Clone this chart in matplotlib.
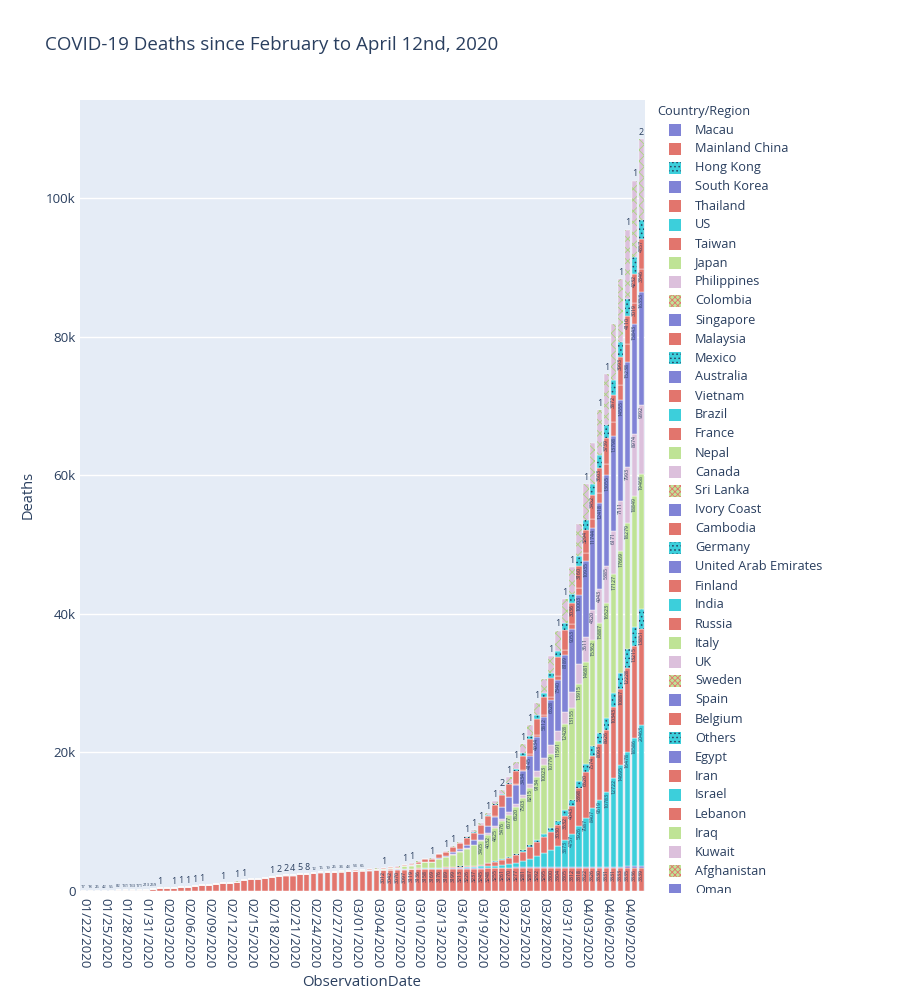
import numpy as np
import pandas as pd
import matplotlib
matplotlib.use('Agg')
import matplotlib.pyplot as plt
from matplotlib.patches import Rectangle
from matplotlib.ticker import FuncFormatter

plt.rcParams['font.family'] = ['Open Sans', 'DejaVu Sans']
plt.rcParams['hatch.linewidth'] = 0.6

# ------------------------------------------
# data: cumulative deaths per day (01/22 .. 04/11)
# ------------------------------------------
dates = pd.date_range('2020-01-22', '2020-04-11').strftime('%m/%d/%Y').tolist()

mainland_china = [17, 18, 26, 42, 56, 82, 131, 133, 171, 213,
                  259, 361, 425, 490, 562, 632, 717, 804, 904, 1011,
                  1111, 1116, 1368, 1520, 1662, 1765, 1863, 2002, 2114, 2236,
                  2236, 2441, 2443, 2593, 2663, 2715, 2744, 2788, 2835,
                  2870, 2912, 2943, 2981, 3012, 3042, 3070, 3097, 3119, 3136,
                  3158, 3169, 3176, 3189, 3199, 3213, 3226, 3237, 3245, 3248,
                  3255, 3261, 3270, 3277, 3281, 3287, 3292, 3295, 3300, 3304, 3305,
                  3312, 3318, 3322, 3326, 3330, 3331, 3331, 3333, 3335, 3336, 3339]

south_korea = [0] * 29 + [1, 2, 2, 6, 8, 10, 12, 13, 13, 16,
                          17, 28, 28, 35, 35, 42, 44, 50, 53, 54,
                          60, 66, 66, 72, 75, 75, 81, 84, 91, 94,
                          102, 104, 111, 120, 126, 131, 139, 144, 152, 158, 162,
                          165, 169, 174, 177, 183, 186, 192, 200, 204, 208, 211]

us = [0] * 38 + [1,
                 1, 6, 7, 11, 12, 14, 17, 21, 22, 28,
                 36, 40, 47, 54, 63, 85, 108, 118, 200, 244,
                 307, 427, 552, 706, 942, 1209, 1581, 2026, 2467, 2978, 3873,
                 4757, 5926, 7087, 8407, 9619, 10783, 12722, 14695, 16478, 18586, 20463]

france = [0] * 24 + [1] * 11 + [2] * 4 + [2, 3, 4, 4, 6, 9, 11, 19, 19, 33,
                                          48, 48, 79, 91, 91, 149, 149, 149, 244, 451,
                                          563, 676, 862, 1102, 1333, 1698, 1997, 2317, 2611, 3030, 3532,
                                          4043, 5398, 6520, 7574, 8093, 8926, 10343, 10887, 12228, 13215, 13851]

germany = [0] * 47 + [2, 2, 3, 3, 7, 9, 11, 17, 24, 28, 44, 67,
                      84, 94, 123, 157, 206, 267, 342, 433, 533, 645, 775,
                      920, 1107, 1275, 1444, 1584, 1810, 2016, 2349, 2607, 2767, 2871]

italy = [0] * 30 + [1, 2, 3, 7, 10, 12, 17, 21, 29,
                    34, 52, 79, 107, 148, 197, 233, 366, 463, 631,
                    827, 827, 1266, 1441, 1809, 2158, 2503, 2978, 3405, 4032,
                    4825, 5476, 6077, 6820, 7503, 8215, 9134, 10023, 10779, 11591, 12428,
                    13155, 13915, 14681, 15362, 15887, 16523, 17127, 17669, 18279, 18849, 19468]

uk = [0] * 43 + [1, 2, 2, 3, 4, 6,
                 8, 8, 8, 21, 21, 56, 56, 72, 138, 178,
                 234, 282, 336, 423, 466, 580, 761, 1021, 1231, 1411, 1793,
                 2357, 2926, 3611, 4320, 4943, 5385, 6171, 7111, 7993, 8974, 9892]

spain = [0] * 41 + [1, 2, 3, 5, 10, 17, 28, 35,
                    54, 55, 133, 195, 289, 342, 533, 623, 830, 1043,
                    1362, 1756, 2182, 2696, 3434, 4145, 4934, 5812, 6528, 7340, 8189,
                    9053, 10003, 10935, 11744, 12418, 13055, 13798, 14555, 15238, 15843, 16353]

belgium = [0] * 49 + [3, 3, 3, 4, 4, 5, 10, 14, 21, 37,
                      67, 75, 88, 122, 178, 220, 289, 353, 431, 513, 705,
                      828, 1011, 1143, 1283, 1447, 1632, 2035, 2240, 2523, 3019, 3346]

iran = [0] * 28 + [2, 2, 4, 5, 8, 12, 16, 19, 26, 34, 43,
                   54, 66, 77, 92, 107, 124, 145, 194, 237, 291,
                   354, 429, 514, 611, 724, 853, 988, 1135, 1284, 1433,
                   1556, 1685, 1812, 1934, 2077, 2234, 2378, 2517, 2640, 2757, 2898,
                   3036, 3160, 3294, 3452, 3603, 3739, 3872, 3993, 4110, 4232, 4357]

netherlands = [0] * 44 + [1, 1, 3, 3, 4,
                          5, 5, 10, 12, 20, 24, 43, 58, 76, 106,
                          136, 179, 213, 276, 357, 435, 547, 640, 772, 865, 1040,
                          1175, 1341, 1490, 1656, 1771, 1874, 2108, 2255, 2403, 2520, 2653]

# world total per day (top of each bar)
world_total = [17, 18, 26, 42, 56, 82, 131, 133, 171, 213,
               259, 362, 426, 492, 564, 634, 719, 806, 906, 1013,
               1113, 1118, 1371, 1523, 1666, 1770, 1868, 2007, 2122, 2247,
               2251, 2458, 2469, 2629, 2708, 2770, 2814, 2872, 2941,
               2996, 3085, 3160, 3254, 3348, 3460, 3558, 3802, 3988, 4262,
               4615, 4720, 5404, 5819, 6440, 7126, 7905, 8733, 9867, 11299,
               12973, 14623, 16497, 18615, 21181, 23970, 27198, 30652, 33925, 37582, 42107,
               46809, 52983, 58787, 64606, 69374, 74565, 81865, 88338, 95455, 102525, 108503]

# labels printed above the bars (value of the top segment)
top_labels = {0: '17', 1: '18', 2: '26', 3: '42', 4: '56', 5: '82', 6: '131', 7: '133',
              8: '171', 9: '213', 10: '259', 11: '1', 13: '1', 14: '1', 15: '1', 16: '1',
              17: '1', 20: '1', 22: '1', 23: '1', 27: '1', 28: '2', 29: '2', 30: '4',
              31: '5', 32: '8', 33: '12', 34: '16', 35: '19', 36: '26', 37: '34', 38: '43',
              39: '54', 40: '66', 43: '1', 46: '1', 47: '1', 50: '1', 52: '1', 53: '1',
              55: '1', 56: '1', 57: '1', 58: '1', 59: '1', 60: '2', 61: '1', 62: '1',
              63: '1', 64: '1', 65: '1', 67: '1', 68: '1', 69: '1', 70: '1', 72: '1',
              74: '1', 75: '1', 77: '1', 78: '1', 79: '1', 80: '2'}

legend_countries = ['Macau', 'Mainland China', 'Hong Kong', 'South Korea', 'Thailand', 'US',
                    'Taiwan', 'Japan', 'Philippines', 'Colombia', 'Singapore', 'Malaysia',
                    'Mexico', 'Australia', 'Vietnam', 'Brazil', 'France', 'Nepal', 'Canada',
                    'Sri Lanka', 'Ivory Coast', 'Cambodia', 'Germany', 'United Arab Emirates',
                    'Finland', 'India', 'Russia', 'Italy', 'UK', 'Sweden', 'Spain', 'Belgium',
                    'Others', 'Egypt', 'Iran', 'Israel', 'Lebanon', 'Iraq', 'Kuwait',
                    'Afghanistan', 'Oman']

# 10-step colour / pattern cycle used for the traces
palette = ['#8083d6', '#e2756d', '#3ccfdb', '#8083d6', '#e2756d',
           '#3ccfdb', '#e2756d', '#bfe396', '#dcc0dc', '#bfe396']
patterns = [None, None, 'dots', None, None, None, None, None, None, 'check']
TXT = '#2a3f5f'

# stacking order follows the legend order
series = [
    (mainland_china, 1), (south_korea, 3), (us, 5), (france, 6), (germany, 2),
    (italy, 7), (uk, 8), (spain, 0), (belgium, 1), (iran, 4), (netherlands, 2),
]


def add_pattern(ax, x, h, b, kind):
    if kind == 'dots':
        ax.bar(x, h, 0.8, bottom=b, color='none', edgecolor=TXT, linewidth=0,
               hatch='....', zorder=3)
    elif kind == 'check':
        ax.bar(x, h, 0.8, bottom=b, color='none', edgecolor='#e2756d', linewidth=0,
               hatch='xxxxxx', zorder=3)
    elif kind == 'mix':
        ax.bar(x, h, 0.8, bottom=b, color='none', edgecolor='#a9d77f', linewidth=0,
               hatch='xxx', zorder=3)


fig = plt.figure(figsize=(9, 10), dpi=100)
ax = fig.add_axes([80 / 900, 109 / 1000, 565 / 900, 791 / 1000])
ax.set_facecolor('#e5ecf6')

x = np.arange(len(dates))
bottom = np.zeros(len(dates))
for vals, st in series:
    vals = np.array(vals, dtype=float)
    ax.bar(x, vals, 0.8, bottom=bottom, color=palette[st], edgecolor='white',
           linewidth=0.3, zorder=2)
    add_pattern(ax, x, vals, bottom, patterns[st])
    for i in x:
        if vals[i] >= 3000:
            ax.text(i, bottom[i] + vals[i] - 150, str(int(vals[i])), rotation=90,
                    ha='center', va='top', fontsize=3.8, color=TXT, zorder=4)
    bottom += vals

# everything else (many small countries) on top
rest = np.clip(np.array(world_total, dtype=float) - bottom, 0, None)
ax.bar(x, rest, 0.8, bottom=bottom, color='#dcc0dc', edgecolor='white',
       linewidth=0.3, zorder=2)
add_pattern(ax, x, rest, bottom, 'mix')

for i, lab in top_labels.items():
    ax.annotate(lab, (i, world_total[i]), xytext=(0, 1.5), textcoords='offset points',
                ha='center', va='bottom', fontsize=6.5 if len(lab) == 1 else 3.0,
                color=TXT, zorder=5)

ax.set_xlim(-0.5, len(dates) - 0.5)
ax.set_ylim(0, 114150)
ax.set_yticks(np.arange(0, 100001, 20000))
ax.yaxis.set_major_formatter(FuncFormatter(lambda v, p: '0' if v == 0 else f'{int(v / 1000)}k'))
ax.set_xticks(x[::3])
ax.set_xticklabels(dates[::3], rotation=-90)
ax.tick_params(length=0, labelsize=9.6, colors=TXT)
ax.tick_params(axis='x', pad=5)
ax.tick_params(axis='y', pad=3)
ax.yaxis.grid(True, color='white', linewidth=1)
ax.set_axisbelow(True)
for s in ax.spines.values():
    s.set_visible(False)

fig.text(45 / 900, 1 - 45 / 1000, 'COVID-19 Deaths since February to April 12nd, 2020',
         fontsize=13.5, color=TXT, va='center', ha='left')
fig.text(28 / 900, 1 - 495 / 1000, 'Deaths', fontsize=10.5, color=TXT, rotation=90,
         va='center', ha='center')
fig.text(362 / 900, 1 - 983 / 1000, 'ObservationDate', fontsize=10.8, color=TXT,
         va='center', ha='center')

# legend (plotly style, scrolled list cut at the bottom)
fig.text(657 / 900, 1 - 112 / 1000, 'Country/Region', fontsize=9.2, color=TXT, va='center')
for j, name in enumerate(legend_countries):
    yc = 130 + 19 * j
    st = j % 10
    fig.add_artist(Rectangle((669 / 900, 1 - (yc + 6) / 1000), 12 / 900, 12 / 1000,
                             transform=fig.transFigure, facecolor=palette[st],
                             edgecolor='none'))
    if patterns[st] == 'dots':
        fig.add_artist(Rectangle((669 / 900, 1 - (yc + 6) / 1000), 12 / 900, 12 / 1000,
                                 transform=fig.transFigure, facecolor='none',
                                 edgecolor=TXT, linewidth=0, hatch='....'))
    elif patterns[st] == 'check':
        fig.add_artist(Rectangle((669 / 900, 1 - (yc + 6) / 1000), 12 / 900, 12 / 1000,
                                 transform=fig.transFigure, facecolor='none',
                                 edgecolor='#e2756d', linewidth=0, hatch='xxxxxx'))
    fig.text(695 / 900, 1 - yc / 1000, name, fontsize=9.2, color=TXT, va='center')

cover = Rectangle((650 / 900, 0), 250 / 900, 107 / 1000, transform=fig.transFigure,
                  facecolor='white', edgecolor='none', zorder=20)
fig.add_artist(cover)

fig.savefig('out.png', dpi=100)
